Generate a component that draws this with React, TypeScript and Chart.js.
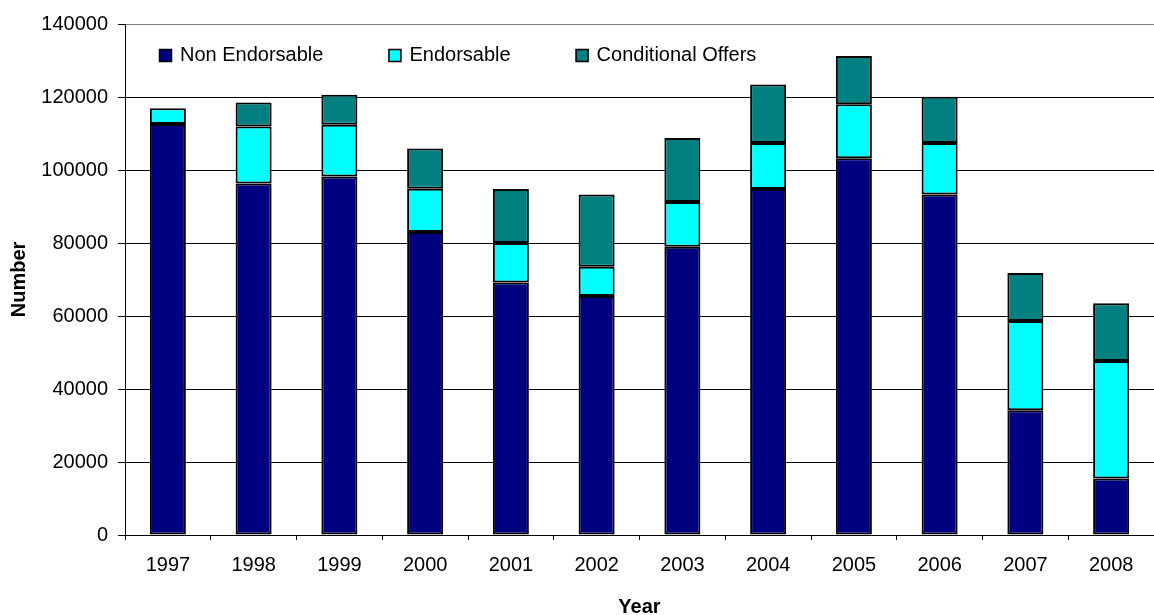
import React, { useEffect, useRef } from "react";
import { Chart, registerables } from "chart.js";

Chart.register(...registerables);

const years = ["1997", "1998", "1999", "2000", "2001", "2002", "2003", "2004", "2005", "2006", "2007", "2008"];
const nonEndorsable = [112600, 96300, 98200, 83000, 69200, 65500, 79000, 94800, 103200, 93300, 34200, 15500];
const endorsable = [4300, 15600, 14200, 11850, 10800, 8000, 12200, 12600, 14800, 14100, 24400, 32200];
const conditionalOffers = [0, 6600, 8200, 11050, 14800, 19800, 17600, 16000, 13200, 12700, 13200, 15800];
const seriesLabels = ["Non Endorsable", "Endorsable", "Conditional Offers"];
const seriesColors = ["#000080", "#00FFFF", "#008080"];
const yMax = 140000;
const yStep = 20000;

const FONT = "'Liberation Sans', Arial, sans-serif";

const legendPlugin = {
  id: "insideLegend",
  afterDraw(chart: any) {
    const { ctx, chartArea } = chart;
    ctx.save();
    ctx.font = `20px ${FONT}`;
    ctx.textBaseline = "middle";
    ctx.textAlign = "left";
    let x = chartArea.left + 34;
    const cy = chartArea.top + 31;
    chart.data.datasets.forEach((ds: any) => {
      ctx.fillStyle = ds.backgroundColor;
      ctx.fillRect(x, cy - 6, 13, 13);
      ctx.lineWidth = 1.5;
      ctx.strokeStyle = "#000";
      ctx.strokeRect(x + 0.5, cy - 5.5, 12, 12);
      ctx.fillStyle = "#000";
      ctx.fillText(ds.label, x + 21, cy);
      x += 21 + ctx.measureText(ds.label).width + 65;
    });
    ctx.restore();
  },
};

export default function App() {
  const ref = useRef<HTMLCanvasElement | null>(null);
  useEffect(() => {
    if (!ref.current) return;
    const values = [nonEndorsable, endorsable, conditionalOffers];
    const chart = new Chart(ref.current, {
      type: "bar",
      data: {
        labels: years,
        datasets: values.map((d, i) => ({
          label: seriesLabels[i],
          data: d,
          backgroundColor: seriesColors[i],
          borderColor: "#000",
          borderWidth: 2,
          borderSkipped: false,
          categoryPercentage: 1,
          barPercentage: 0.42,
        })),
      },
      options: {
        animation: false,
        responsive: false,
        maintainAspectRatio: false,
        layout: { padding: { top: 24, right: 0, left: 0, bottom: 0 } },
        plugins: { legend: { display: false }, tooltip: { enabled: false } },
        scales: {
          x: {
            stacked: true,
            afterFit: (s: any) => {
              s.height = 80;
            },
            grid: {
              display: true,
              drawOnChartArea: false,
              drawTicks: true,
              tickLength: 5,
              offset: true,
              color: "#000",
            },
            border: { display: true, color: "#000", width: 1 },
            ticks: { color: "#000", font: { family: FONT, size: 20 }, padding: 13, maxRotation: 0 },
            title: {
              display: true,
              text: "Year",
              color: "#000",
              font: { family: FONT, size: 20, weight: "bold" },
              padding: { top: 0, bottom: -4 },
            },
          },
          y: {
            stacked: true,
            min: 0,
            max: yMax,
            afterFit: (s: any) => {
              s.width = 125;
            },
            ticks: {
              stepSize: yStep,
              color: "#000",
              font: { family: FONT, size: 20 },
              padding: 10,
              callback: (v: any) => String(v),
            },
            grid: {
              color: (c: any) => (c.tick && c.tick.value === yMax ? "#808080" : "#000"),
              tickColor: "#000",
              tickLength: 7,
              drawTicks: true,
            },
            border: { display: true, color: "#000", width: 1 },
            title: {
              display: true,
              text: "Number",
              color: "#000",
              font: { family: FONT, size: 20, weight: "bold" },
              padding: { top: 7, bottom: 0 },
            },
          },
        },
      },
      plugins: [legendPlugin],
    });
    return () => chart.destroy();
  }, []);
  return (
    <div style={{ position: "fixed", left: 0, top: 0, width: 1154, height: 615, background: "#fff" }}>
      <canvas ref={ref} width={1154} height={615} style={{ display: "block" }} />
    </div>
  );
}
